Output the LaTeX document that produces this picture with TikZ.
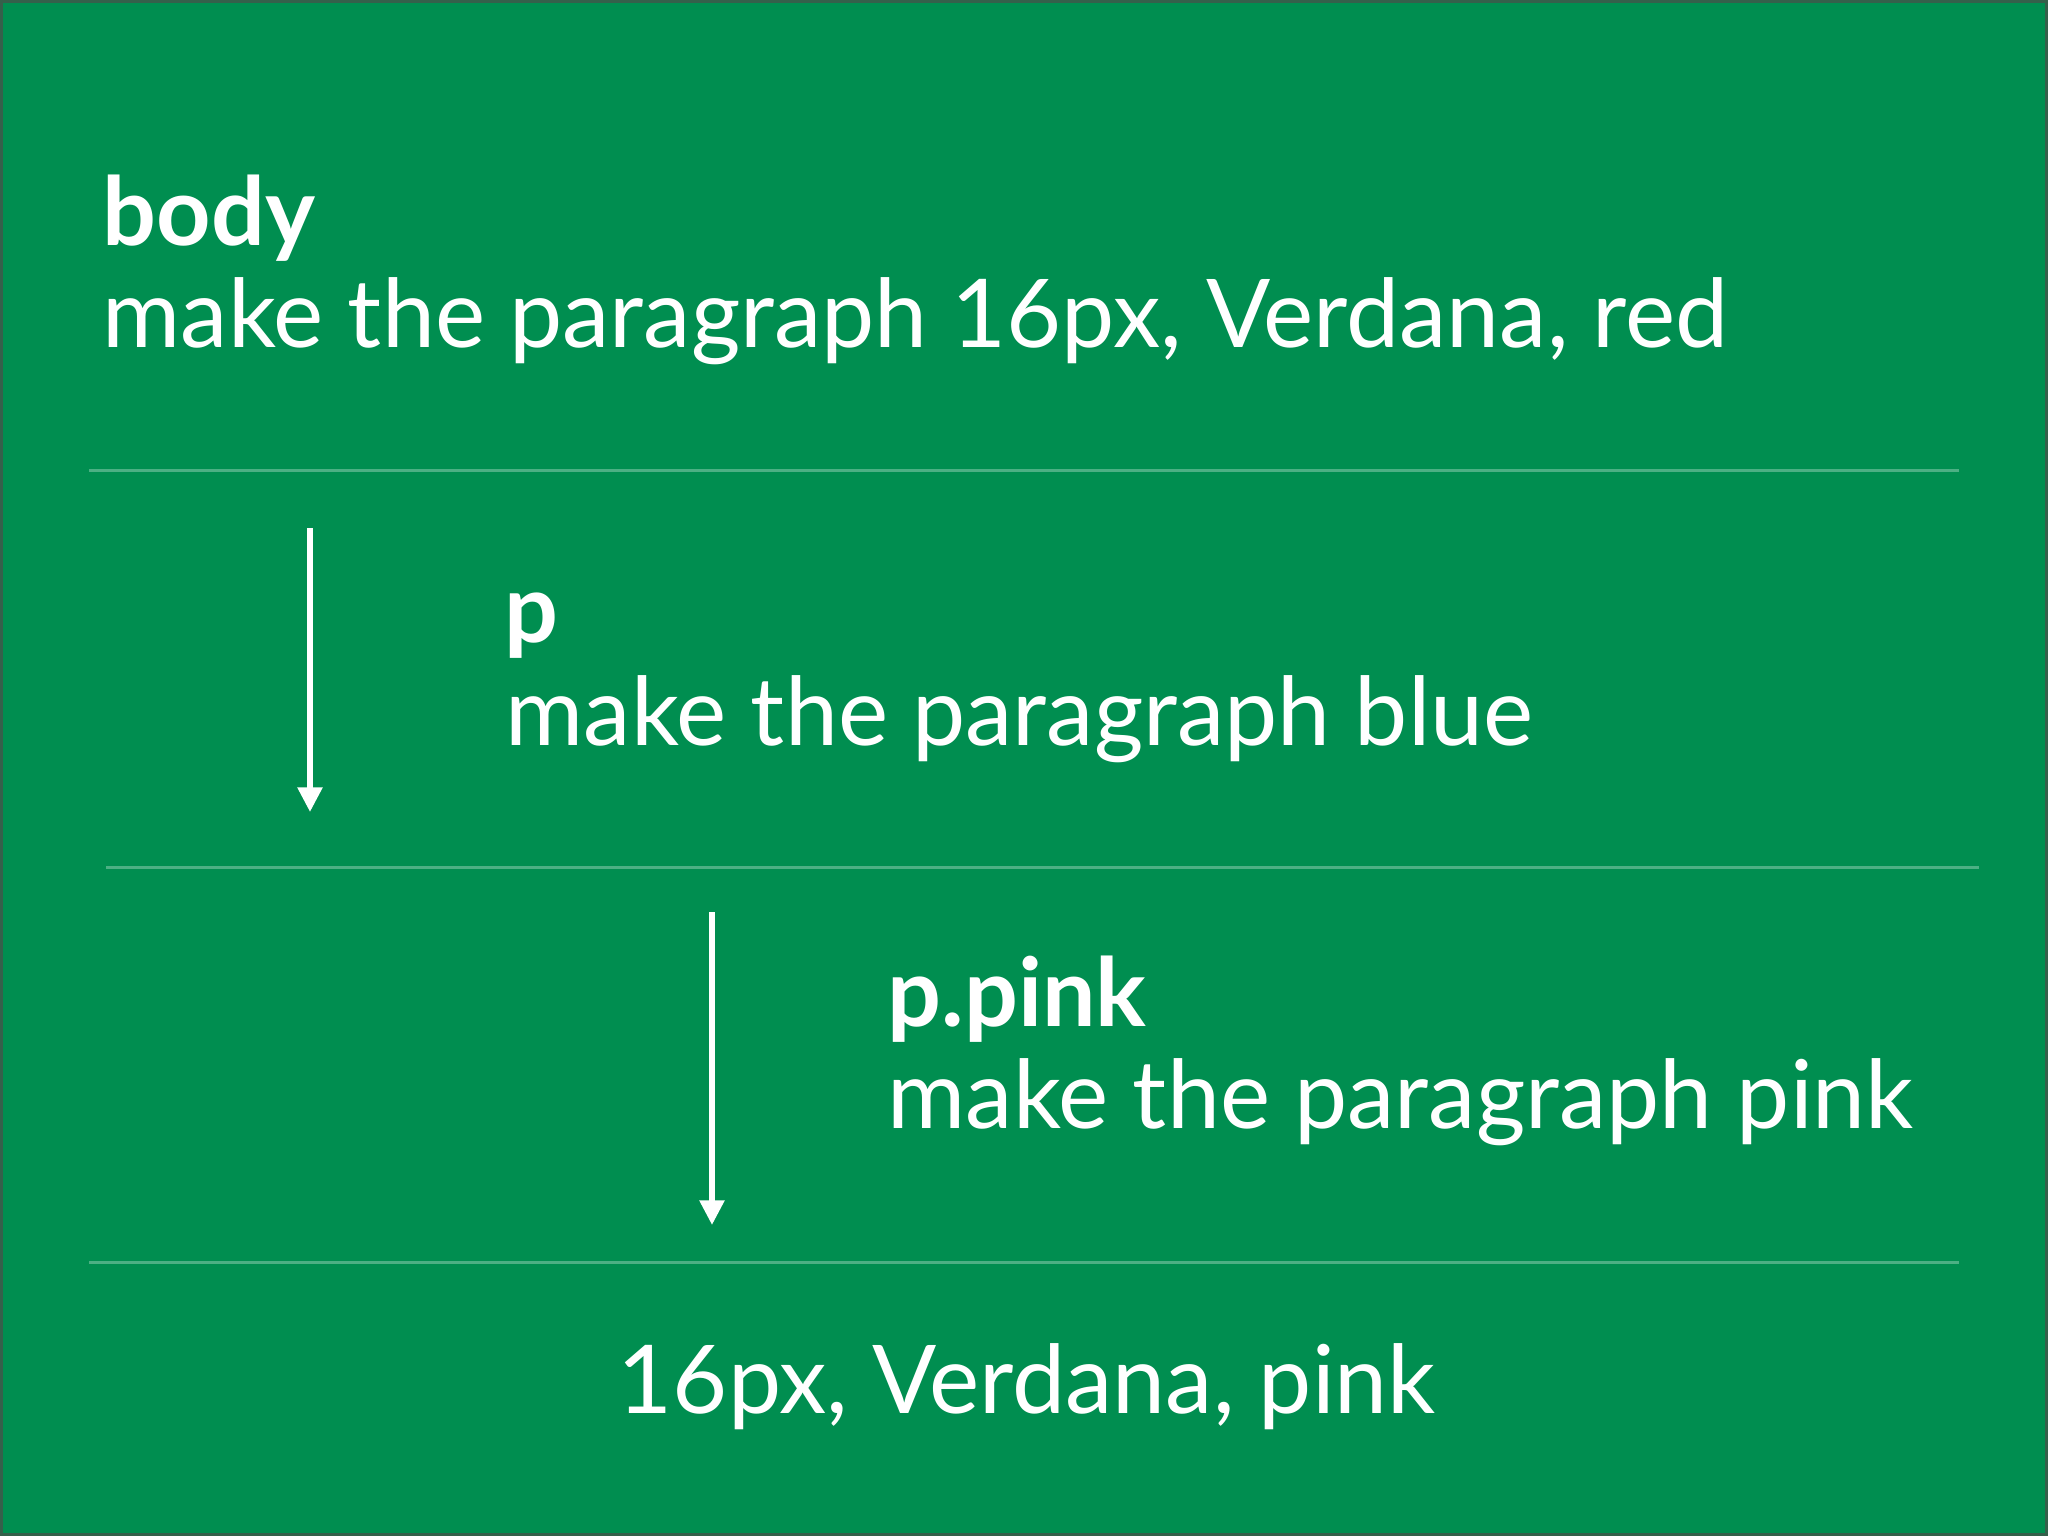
\documentclass[tikz,border=0pt]{standalone}
\usepackage{fontspec}
\setmainfont{Lato}
\usepackage{xcolor}
\usepackage{tikz}
\usetikzlibrary{arrows.meta, positioning}
\definecolor{slidegreen}{HTML}{008E50}
\definecolor{slideedge}{HTML}{35604B}

\begin{document}
\begin{tikzpicture}[x=0.01cm, y=-0.01cm]
            % Text and line styles
            \tikzstyle{selector} = [anchor=base west, inner sep=0pt, text=white, font=\fontsize{27}{30}\selectfont\bfseries]
            \tikzstyle{rule} = [anchor=base west, inner sep=0pt, text=white, font=\fontsize{27}{30}\selectfont]
            \tikzstyle{divider} = [line width=0.85pt, draw=white!30!slidegreen]
            \tikzstyle{cascade} = [line width=1.6pt, draw=white, -{Triangle[width=6.8pt, length=7pt]}]
            % Background
            \useasboundingbox (0,0) rectangle (2048,1536);
            \fill[slidegreen] (0,0) rectangle (2048,1536);
            \draw[slideedge, line width=1.6pt] (0,0) rectangle (2048,1536);
            % Rules
            \node[selector] (body) at (102,245) {body};
            \node[rule] (bodyrule) at (102,347) {make the paragraph 16px, Verdana, red};
            \node[selector] (p) at (504,642) {p};
            \node[rule] (prule) at (505,745) {make the paragraph blue};
            \node[selector] (ppink) at (887,1026) {p.pink};
            \node[rule] (ppinkrule) at (887,1128) {make the paragraph pink};
            \node[rule, anchor=base] (result) at (1027,1413) {16px, Verdana, pink};
            % Dividers
            \draw[divider] (89,470) -- (1959,470);
            \draw[divider] (106,867) -- (1979,867);
            \draw[divider] (89,1262) -- (1959,1262);
            % Cascade arrows
            \coordinate (firsttop) at (310,528);
            \coordinate (firsttip) at (310,812);
            \coordinate (secondtop) at (712,912);
            \coordinate (secondtip) at (712,1225);
            \draw[cascade] (firsttop) -- (firsttip);
            \draw[cascade] (secondtop) -- (secondtip);
        \end{tikzpicture}
\end{document}
